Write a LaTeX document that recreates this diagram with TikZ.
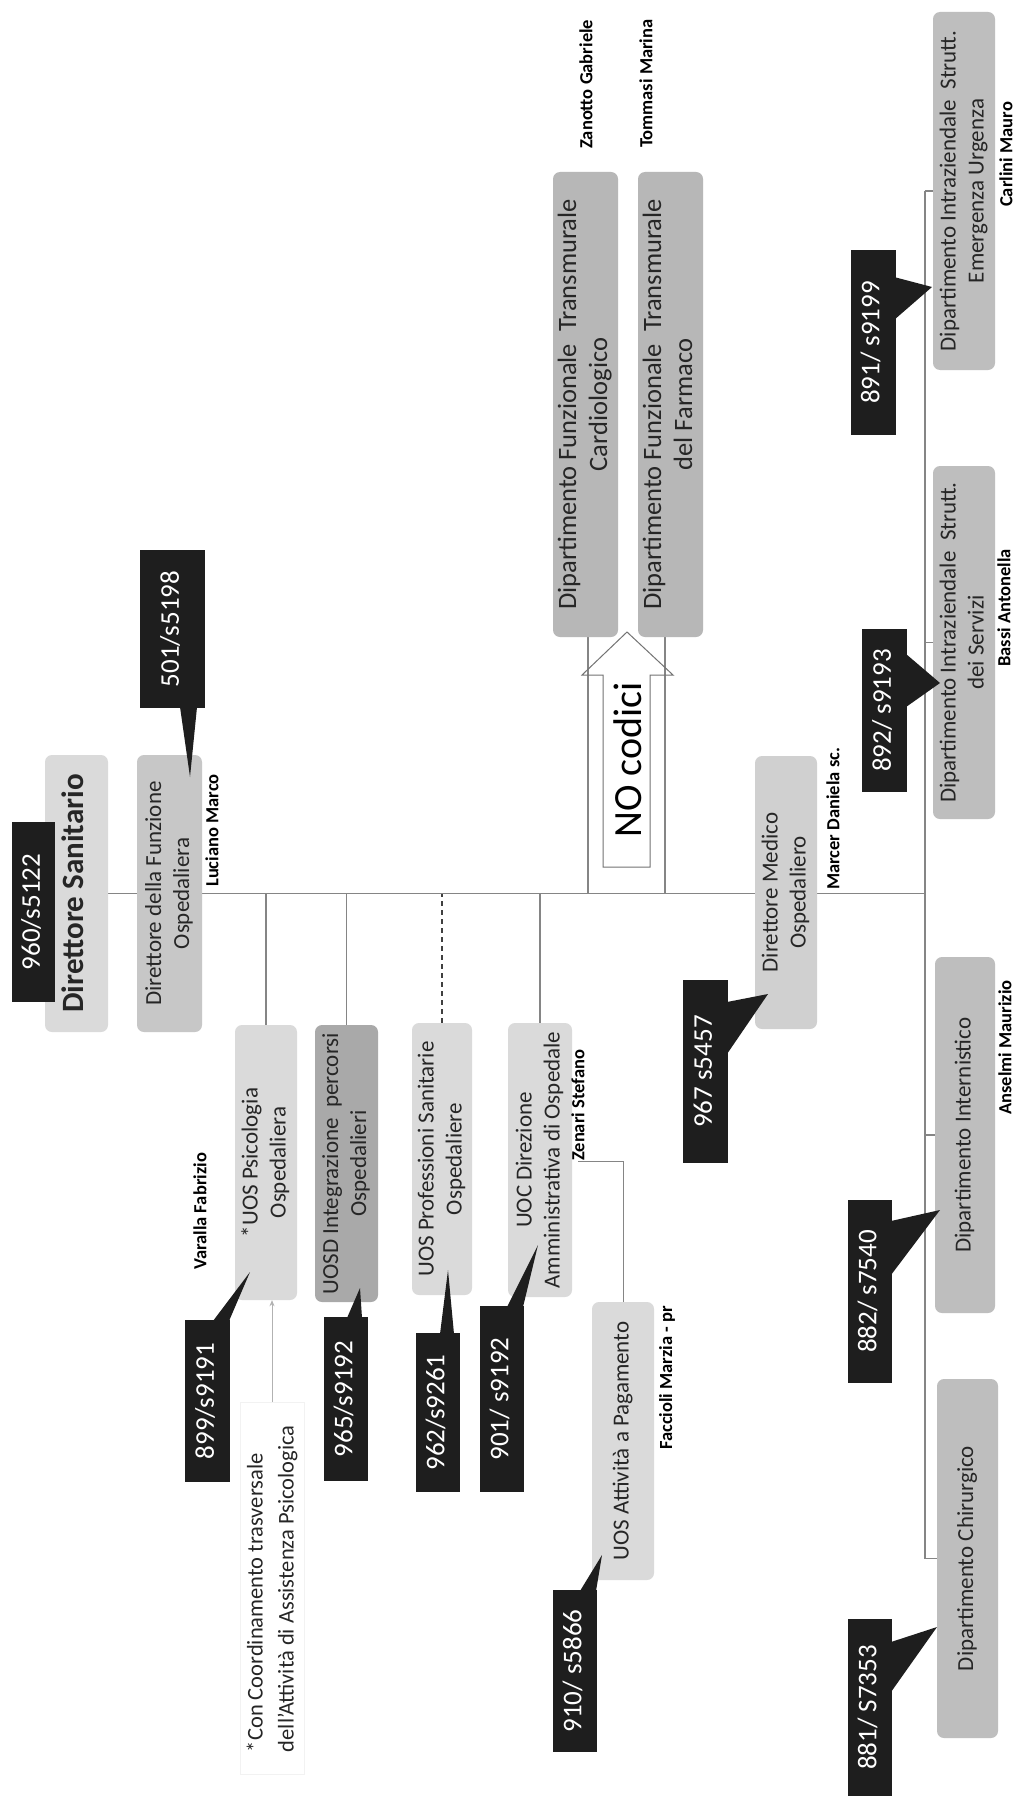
\documentclass[tikz,border=0pt]{standalone}
\usepackage{fontspec}
\setmainfont{Carlito}
\usetikzlibrary{calc,backgrounds,arrows.meta}

\definecolor{gLight}{HTML}{DADADA}
\definecolor{gFunz}{HTML}{C7C7C7}
\definecolor{gMed}{HTML}{D0D0D0}
\definecolor{gDark}{HTML}{A9A9A9}
\definecolor{gDept}{HTML}{BEBEBE}
\definecolor{gTrans}{HTML}{B7B7B7}
\definecolor{codeblack}{HTML}{1E1E1E}
\definecolor{linegray}{HTML}{858585}
\definecolor{inktext}{HTML}{262626}

% font sizes (1pt = 1 pixel of the page)
\newcommand{\unitfont}{\fontsize{23}{28}\selectfont}
\newcommand{\transfont}{\fontsize{26.5}{31}\selectfont}
\newcommand{\chieffont}{\fontsize{31}{36}\selectfont\bfseries}
\newcommand{\codefont}{\fontsize{27}{32}\selectfont}
\newcommand{\personfont}{\fontsize{18.5}{22}\selectfont\bfseries}
\newcommand{\notefont}{\fontsize{22.5}{31}\selectfont}
\newcommand{\nocodfont}{\fontsize{40}{46}\selectfont}
% text turned to read upwards
\newcommand{\uptext}[1]{\rotatebox{90}{\begin{tabular}{@{}c@{}}#1\end{tabular}}}
\newcommand{\upleft}[1]{\rotatebox{90}{\begin{tabular}{@{}l@{}}#1\end{tabular}}}

\tikzset{
  unit/.style={rounded corners=7pt, inner sep=0pt, text=inktext},
  code/.style={fill=codeblack, text=white, inner sep=0pt},
  person/.style={inner sep=0pt, anchor=south, text=black},
  link/.style={draw=linegray, line width=1.1pt},
  dashlink/.style={draw=black!75, line width=1.3pt, dash pattern=on 5pt off 4pt},
  noteline/.style={draw=black!30, line width=0.8pt, -{Stealth[length=6pt,width=5pt]}},
  blockarrow/.style={draw=black!55, line width=1pt},
}

\begin{document}
\begin{tikzpicture}[x=1pt,y=-1pt]
\useasboundingbox (0,0) rectangle (1015,1803);

% ---------- units ----------
\node[unit, fill=gLight, minimum width=63pt, minimum height=277pt] (dsan) at (76.5,893.5) {\chieffont\uptext{Direttore Sanitario}};
\node[unit, fill=gFunz, minimum width=65pt, minimum height=277pt] (dfun) at (169.5,893.5) {\unitfont\uptext{Direttore della Funzione\\Ospedaliera}};

\node[unit, fill=gLight, minimum width=62pt, minimum height=275pt] (uosPsi) at (266,1162.5) {\unitfont\uptext{*UOS Psicologia\\Ospedaliera}};
\node[unit, fill=gDark, minimum width=63pt, minimum height=277pt] (uosd) at (346.5,1163.5) {\unitfont\uptext{UOSD Integrazione\ \ percorsi\\Ospedalieri}};
\node[unit, fill=gLight, minimum width=60pt, minimum height=272pt] (uosProf) at (442,1159) {\unitfont\uptext{UOS Professioni Sanitarie\\Ospedaliere}};
\node[unit, fill=gLight, minimum width=64pt, minimum height=274pt] (uoc) at (540,1160) {\unitfont\uptext{UOC Direzione\\Amministrativa di Ospedale}};
\node[unit, fill=gLight, minimum width=62pt, minimum height=278pt] (uosPag) at (623,1441) {\unitfont\uptext{UOS Attività a Pagamento}};

\node[unit, fill=gMed, minimum width=62pt, minimum height=273pt] (dmed) at (786,892.5) {\unitfont\uptext{Direttore Medico\\Ospedaliero}};

\node[unit, fill=gTrans, minimum width=65pt, minimum height=465pt] (dfCard) at (585.5,404.5) {\transfont\uptext{Dipartimento Funzionale\ \ Transmurale\\Cardiologico}};
\node[unit, fill=gTrans, minimum width=65pt, minimum height=465pt] (dfFarm) at (670.5,404.5) {\transfont\uptext{Dipartimento Funzionale\ \ Transmurale\\del Farmaco}};

\node[unit, fill=gDept, minimum width=62pt, minimum height=358pt] (diEme) at (964,191) {\unitfont\uptext{Dipartimento Intraziendale\ \ Strutt.\\Emergenza Urgenza}};
\node[unit, fill=gDept, minimum width=62pt, minimum height=353pt] (diSer) at (964,642.5) {\unitfont\uptext{Dipartimento Intraziendale\ \ Strutt.\\dei Servizi}};
\node[unit, fill=gDept, minimum width=60pt, minimum height=356pt] (dInt) at (965,1135) {\unitfont\uptext{Dipartimento Internistico}};
\node[unit, fill=gDept, minimum width=61pt, minimum height=359pt] (dChi) at (967.5,1558.5) {\unitfont\uptext{Dipartimento Chirurgico}};

% ---------- code labels ----------
\node[code, minimum width=43pt, minimum height=180pt] (c960) at (33.5,912) {\codefont\uptext{960/s5122}};
\node[code, minimum width=65pt, minimum height=158pt] (c501) at (172.5,629) {\codefont\uptext{501/s5198}};
\node[code, minimum width=45pt, minimum height=162pt] (c899) at (207.5,1401) {\codefont\uptext{899/s9191}};
\node[code, minimum width=44pt, minimum height=164pt] (c965) at (346,1399) {\codefont\uptext{965/s9192}};
\node[code, minimum width=44pt, minimum height=159pt] (c962) at (438,1412.5) {\codefont\uptext{962/s9261}};
\node[code, minimum width=44pt, minimum height=186pt] (c901) at (502,1399) {\codefont\uptext{901/ s9192}};
\node[code, minimum width=44pt, minimum height=162pt] (c910) at (575,1671) {\codefont\uptext{910/ s5866}};
\node[code, minimum width=45pt, minimum height=183pt] (c967) at (705.5,1071.5) {\codefont\uptext{967 s5457}};
\node[code, minimum width=45pt, minimum height=185pt] (c891) at (873,342.5) {\codefont\uptext{891/ s9199}};
\node[code, minimum width=45pt, minimum height=163pt] (c892) at (884.5,710.5) {\codefont\uptext{892/ s9193}};
\node[code, minimum width=44pt, minimum height=183pt] (c882) at (870,1291.5) {\codefont\uptext{882/ s7540}};
\node[code, minimum width=44pt, minimum height=177pt] (c881) at (870,1707.5) {\codefont\uptext{881/ S7353}};

% callout pointers
\fill[codeblack] (180,707) -- (190,777) -- (197,707) -- cycle;
\fill[codeblack] (213,1321) -- (250,1272) -- (229,1321) -- cycle;
\fill[codeblack] (347,1318) -- (360,1288) -- (362,1318) -- cycle;
\fill[codeblack] (440,1334) -- (448,1270) -- (454,1334) -- cycle;
\fill[codeblack] (507,1307) -- (538,1245) -- (523,1307) -- cycle;
\fill[codeblack] (580,1591) -- (602,1555) -- (596,1591) -- cycle;
\fill[codeblack] (727,1002) -- (768,994) -- (727,1054) -- cycle;
\fill[codeblack] (894,277) -- (932,287) -- (894,320) -- cycle;
\fill[codeblack] (906,654) -- (940,683) -- (906,707) -- cycle;
\fill[codeblack] (891,1221) -- (940,1210) -- (891,1275) -- cycle;
\fill[codeblack] (891,1642) -- (937,1627) -- (891,1692) -- cycle;

% ---------- names ----------
\node[person] (nLuc) at (212,887) {\personfont\rotatebox{90}{Luciano Marco}};
\node[person] (nMar) at (833,890) {\personfont\rotatebox{90}{Marcer Daniela sc.}};
\node[person] (nZen) at (578,1161) {\personfont\rotatebox{90}{Zenari Stefano}};
\node[person] (nVar) at (200,1270) {\personfont\rotatebox{90}{Varalla Fabrizio}};
\node[person] (nFac) at (667,1450) {\personfont\rotatebox{90}{Faccioli Marzia - pr}};
\node[person] (nCar) at (1006,207) {\personfont\rotatebox{90}{Carlini Mauro}};
\node[person] (nBas) at (1004,667) {\personfont\rotatebox{90}{Bassi Antonella}};
\node[person] (nAns) at (1005,1115) {\personfont\rotatebox{90}{Anselmi Maurizio}};
\node[person] (nZan) at (586,149) {\personfont\rotatebox{90}{Zanotto Gabriele}};
\node[person] (nTom) at (646,148) {\personfont\rotatebox{90}{Tommasi Marina}};

% ---------- footnote ----------
\node[draw=black!5, line width=0.6pt, anchor=south, minimum width=64pt, minimum height=372pt, inner sep=0pt, text=inktext] (foot) at (272,1775)
  {\notefont\upleft{*Con Coordinamento trasversale\\dell'Attività di Assistenza Psicologica}};

% ---------- "NO codici" block arrow ----------
\node[inner sep=0pt, text=black] (nocod) at (628,760) {\nocodfont\rotatebox{90}{NO codici}};
\draw[blockarrow, line join=miter] (603,867) -- (603,675) -- (582,675) -- (627,632) -- (673,675) -- (650,675) -- (650,867) -- cycle;

% ---------- connectors ----------
\begin{pgfonlayer}{background}
  \fill[white] (0,0) rectangle (1015,1803);
  \coordinate (busx) at (925,0);
  \coordinate (cardFoot) at ($(dfCard.south)+(2.5,0)$);
  \coordinate (farmFoot) at ($(dfFarm.south)+(-5.5,0)$);
  % main line and right bus
  \draw[link] (dsan.east) -- (dsan.east -| busx);
  \draw[link] (diEme.west -| busx) -- (dChi.west -| busx);
  \foreach \n in {diEme,diSer,dInt,dChi}
    \draw[link] (\n.west) -- (\n.west -| busx);
  % branches below the main line
  \foreach \n in {uosPsi,uosd,uoc}
    \draw[link] (\n.north) -- (\n.north |- dsan.east);
  \draw[dashlink] (uosProf.north) -- (uosProf.north |- dsan.east);
  % branches above the main line
  \draw[link] (cardFoot) -- (cardFoot |- dsan.east);
  \draw[link] (farmFoot) -- (farmFoot |- dsan.east);
  % administration to paid activity
  \draw[link, line width=0.9pt] (nZen.south) -| (uosPag.north);
  % footnote pointer
  \draw[noteline] (foot.north) -- (foot.north |- uosPsi.south);
\end{pgfonlayer}
\end{tikzpicture}
\end{document}
